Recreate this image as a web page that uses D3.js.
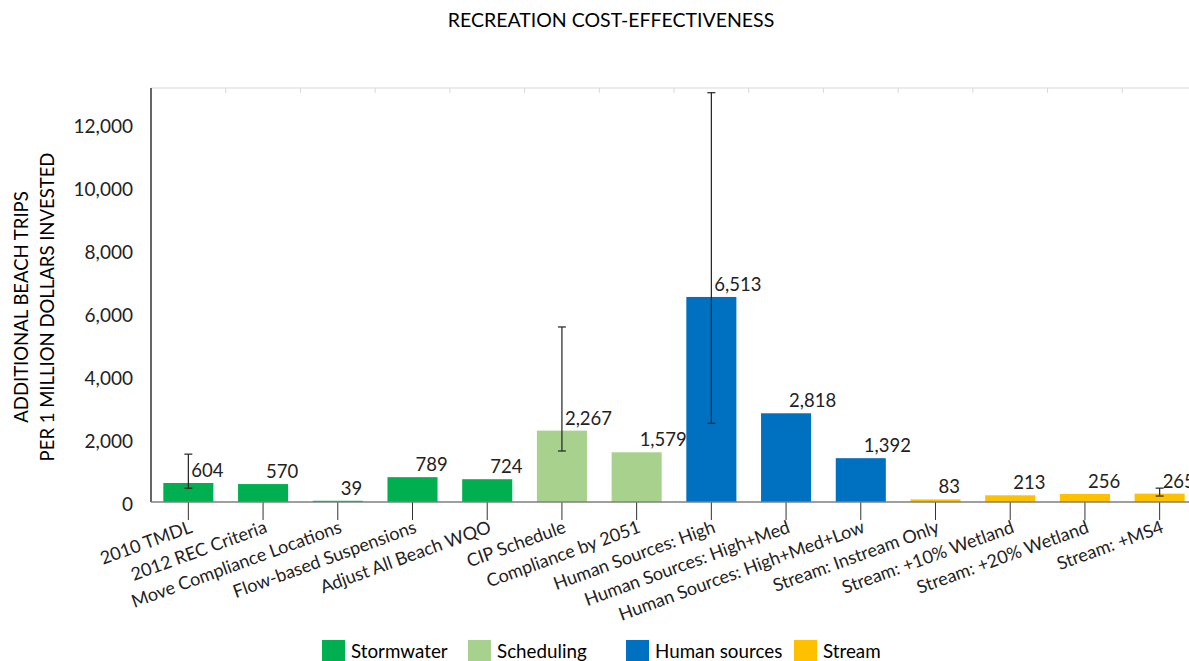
<!DOCTYPE html>
<html>
<head>
<meta charset="utf-8">
<script src="https://cdn.jsdelivr.net/npm/d3@7"></script>
<style>
  html, body { margin: 0; padding: 0; background: #fff; }
  svg { display: block; font-family: Lato, "Open Sans", sans-serif; }
</style>
</head>
<body>
<svg id="chart" width="1189" height="661"></svg>
<script>
const categories = [
  "2010 TMDL", "2012 REC Criteria", "Move Compliance Locations", "Flow-based Suspensions",
  "Adjust All Beach WQO", "CIP Schedule", "Compliance by 2051", "Human Sources: High",
  "Human Sources: High+Med", "Human Sources: High+Med+Low", "Stream: Instream Only",
  "Stream: +10% Wetland", "Stream: +20% Wetland", "Stream: +MS4"
];
const values = [604, 570, 39, 789, 724, 2267, 1579, 6513, 2818, 1392, 83, 213, 256, 265];
const groups = [
  "Stormwater", "Stormwater", "Stormwater", "Stormwater", "Stormwater",
  "Scheduling", "Scheduling", "Human sources", "Human sources", "Human sources",
  "Stream", "Stream", "Stream", "Stream"
];
const errorLow  = [440, null, null, null, null, 1620, null, 2500, null, null, null, null, null, 190];
const errorHigh = [1520, null, null, null, null, 5560, null, 13000, null, null, null, null, null, 440];
const legendNames = ["Stormwater", "Scheduling", "Human sources", "Stream"];
const legendColors = ["#00B050", "#A9D18E", "#0070C0", "#FFC000"];
const yTicks = [0, 2000, 4000, 6000, 8000, 10000, 12000];

const svg = d3.select("#chart");
const pLeft = 151, pRight = 1197, pTop = 88, pBottom = 502;

const x = d3.scaleBand().domain(categories).range([pLeft, pRight]).paddingInner(0.33).paddingOuter(0.165);
const y = d3.scaleLinear().domain([0, 13150]).range([pBottom, pTop]);
const color = d3.scaleOrdinal().domain(legendNames).range(legendColors);
const fmt = d3.format(",");

// Title
svg.append("text").attr("x", 611).attr("y", 27).attr("text-anchor", "middle")
  .attr("font-size", 19.5).attr("fill", "#000").text("RECREATION COST-EFFECTIVENESS");

// Top border with small boundary ticks
const step = x.step();
svg.append("line").attr("x1", pLeft).attr("x2", 1189).attr("y1", pTop).attr("y2", pTop)
  .attr("stroke", "#d9d9d9").attr("stroke-width", 1);
svg.append("g").selectAll("line").data(d3.range(1, categories.length)).join("line")
  .attr("x1", d => pLeft + d * step).attr("x2", d => pLeft + d * step)
  .attr("y1", pTop).attr("y2", pTop + 5).attr("stroke", "#d9d9d9");

// Bars
svg.append("g").selectAll("rect").data(categories).join("rect")
  .attr("x", d => x(d)).attr("width", x.bandwidth())
  .attr("y", (d, i) => y(values[i])).attr("height", (d, i) => pBottom - y(values[i]))
  .attr("fill", (d, i) => color(groups[i]));

// Y axis
const yAxis = d3.axisLeft(y).tickValues(yTicks).tickFormat(fmt).tickSize(0).tickPadding(18);
const gy = svg.append("g").attr("transform", `translate(${pLeft},0)`).call(yAxis);
gy.select(".domain").remove();
gy.selectAll("text").attr("font-size", 19).attr("fill", "#222").attr("font-family", "Lato, sans-serif").attr("dy", "0.45em");
svg.append("line").attr("x1", pLeft).attr("x2", pLeft).attr("y1", pTop).attr("y2", pBottom)
  .attr("stroke", "#333").attr("stroke-width", 1.5);

// X axis
const xAxis = d3.axisBottom(x).tickSize(18).tickPadding(0);
const gx = svg.append("g").attr("transform", `translate(0,${pBottom})`).call(xAxis);
gx.select(".domain").remove();
svg.append("line").attr("x1", pLeft).attr("x2", 1189).attr("y1", pBottom).attr("y2", pBottom)
  .attr("stroke", "#7f7f7f").attr("stroke-width", 1.5);
gx.selectAll(".tick line").attr("stroke", "#333");
gx.selectAll(".tick text")
  .attr("font-size", 18).attr("fill", "#222").attr("font-family", "Lato, sans-serif")
  .attr("text-anchor", "end").attr("dy", 0).attr("y", 0)
  .attr("transform", "translate(5,30) rotate(-20)");

// Error bars
const eb = svg.append("g").attr("stroke", "#222").attr("stroke-width", 1.2);
categories.forEach((c, i) => {
  if (errorLow[i] == null) return;
  const cx = x(c) + x.bandwidth() / 2;
  eb.append("line").attr("x1", cx).attr("x2", cx).attr("y1", y(errorLow[i])).attr("y2", y(errorHigh[i]));
  eb.append("line").attr("x1", cx - 4).attr("x2", cx + 4).attr("y1", y(errorLow[i])).attr("y2", y(errorLow[i]));
  eb.append("line").attr("x1", cx - 4).attr("x2", cx + 4).attr("y1", y(errorHigh[i])).attr("y2", y(errorHigh[i]));
});

// Value labels
svg.append("g").selectAll("text").data(categories).join("text")
  .attr("x", d => x(d) + x.bandwidth() / 2 + 3)
  .attr("y", (d, i) => y(values[i]) - 6)
  .attr("font-size", 18.5).attr("fill", "#222")
  .text((d, i) => fmt(values[i]));

// Y axis title
const yt = svg.append("text").attr("transform", "translate(0,307) rotate(-90)")
  .attr("text-anchor", "middle").attr("font-size", 18.5).attr("fill", "#000");
yt.append("tspan").attr("x", 0).attr("y", 28).text("ADDITIONAL BEACH TRIPS");
yt.append("tspan").attr("x", 0).attr("y", 54).text("PER 1 MILLION DOLLARS INVESTED");

// Legend
const legendX = [322, 468, 626, 794];
const lg = svg.append("g");
legendNames.forEach((n, i) => {
  lg.append("rect").attr("x", legendX[i]).attr("y", 640).attr("width", 23).attr("height", 22).attr("fill", legendColors[i]);
  lg.append("text").attr("x", legendX[i] + 29).attr("y", 658).attr("font-size", 18.8).attr("fill", "#000").text(n);
});
</script>
</body>
</html>
